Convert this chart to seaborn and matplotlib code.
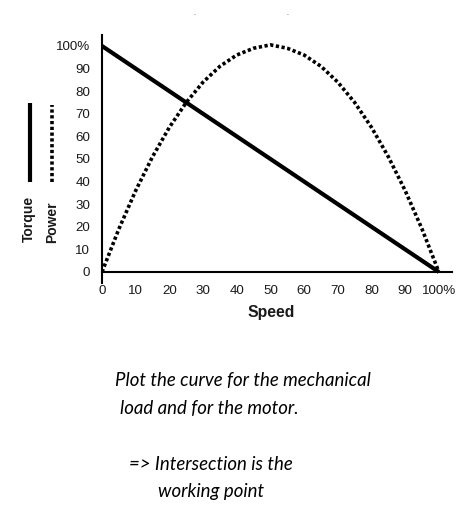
import matplotlib
matplotlib.use("Agg")
import matplotlib.pyplot as plt
import seaborn as sns
import pandas as pd

speed = [0, 5, 10, 15, 20, 25, 30, 35, 40, 45, 50, 55, 60, 65, 70, 75, 80, 85, 90, 95, 100]
torque = [100, 95, 90, 85, 80, 75, 70, 65, 60, 55, 50, 45, 40, 35, 30, 25, 20, 15, 10, 5, 0]
power = [0, 19, 36, 51, 64, 75, 84, 91, 96, 99, 100.5, 99, 96, 91, 84, 75, 64, 51, 36, 19, 0]
y_ticks = [0, 10, 20, 30, 40, 50, 60, 70, 80, 90, 100]
y_labels = ["0", "10", "20", "30", "40", "50", "60", "70", "80", "90", "100%"]
x_ticks = [0, 10, 20, 30, 40, 50, 60, 70, 80, 90, 100]
x_labels = ["0", "10", "20", "30", "40", "50", "60", "70", "80", "90", "100%"]

sns.set_style("white")
plt.rcParams['font.family'] = ['Liberation Sans', 'DejaVu Sans']

df = pd.DataFrame({"speed": speed, "torque": torque, "power": power})

fig = plt.figure(figsize=(4.75, 5.24), dpi=100)
ax = fig.add_axes([102/475, 0.4594, (452-102)/475, 0.4744])

sns.lineplot(data=df, x="speed", y="torque", ax=ax, color="black", linewidth=3.0,
             solid_capstyle="butt")
sns.lineplot(data=df, x="speed", y="power", ax=ax, color="black", linewidth=2.6,
             linestyle=(0, (0.9, 0.7)), dash_capstyle="butt")

ax.set_xlim(0, 103.9)
ax.set_ylim(-5, 105)
for s in ["top", "right"]:
    ax.spines[s].set_visible(False)
ax.spines["left"].set_position(("data", 0))
ax.spines["bottom"].set_position(("data", 0))
for s in ["left", "bottom"]:
    ax.spines[s].set_linewidth(1.5)
    ax.spines[s].set_color("black")

ax.set_yticks(y_ticks)
ax.set_yticklabels(y_labels)
ax.set_xticks(x_ticks)
ax.set_xticklabels(x_labels)
ax.tick_params(axis="both", direction="out", length=6.5, width=1.5, color="black",
               labelsize=9.6, pad=2, labelcolor="#1a1a1a")
ax.tick_params(axis="x", pad=3)
ax.set_xlabel("")
ax.set_ylabel("")
fig.text(271/475, 1 - 312/524, "Speed", ha="center", va="center", fontsize=11.3,
         fontweight="bold", color="#1a1a1a")

# legend on the left
fig.add_artist(plt.Line2D([30/475, 30/475], [1-182/524, 1-103/524], color="black",
                          linewidth=3.0, solid_capstyle="butt"))
fig.add_artist(plt.Line2D([52/475, 52/475], [1-182/524, 1-105/524], color="black",
                          linewidth=2.6, linestyle=(0, (0.9, 0.7)), dash_capstyle="butt"))
fig.text(29/475, 1 - 219/524, "Torque", rotation=90, ha="center", va="center",
         fontsize=10, fontweight="bold", color="#1a1a1a")
fig.text(52/475, 1 - 222/524, "Power", rotation=90, ha="center", va="center",
         fontsize=10, fontweight="bold", color="#1a1a1a")

# tiny marks at top
fig.text(195/475, 1 - 15/524, "-", fontsize=4, ha="center", va="center", color="#444444")
fig.text(288/475, 1 - 15/524, "-", fontsize=4, ha="center", va="center", color="#444444")

# caption
cap_font = ['Lato', 'DejaVu Sans']
cs = 13.4
fig.text(243/475, 1 - 380/524, "Plot the curve for the mechanical", ha="center", va="center",
         fontsize=cs, style="italic", family=cap_font, color="black")
fig.text(209/475, 1 - 408/524, "load and for the motor.", ha="center", va="center",
         fontsize=cs, style="italic", family=cap_font, color="black")
fig.text(211/475, 1 - 464/524, "=> Intersection is the", ha="center", va="center",
         fontsize=cs, style="italic", family=cap_font, color="black")
fig.text(211/475, 1 - 492/524, "working point", ha="center", va="center",
         fontsize=cs, style="italic", family=cap_font, color="black")

fig.savefig("out.png", dpi=100)
